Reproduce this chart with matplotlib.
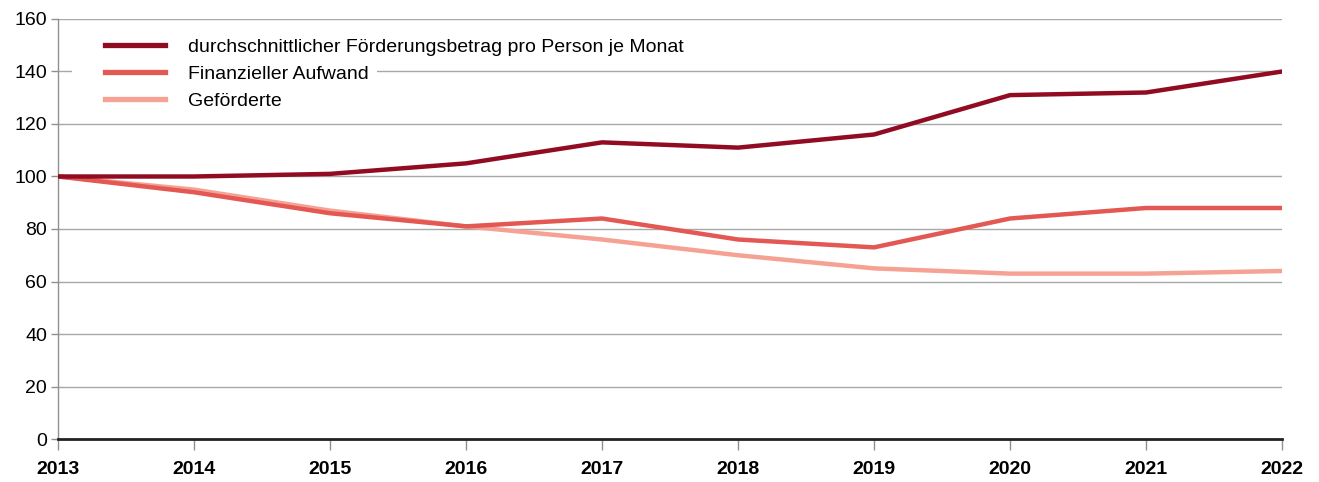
import matplotlib
matplotlib.use("Agg")
import matplotlib.pyplot as plt
from matplotlib.patches import Rectangle

plt.rcParams['font.family'] = ['Liberation Sans Narrow', 'Liberation Sans', 'DejaVu Sans']

years = [2013, 2014, 2015, 2016, 2017, 2018, 2019, 2020, 2021, 2022]
betrag = [100, 100, 101, 105, 113, 111, 116, 131, 132, 140]
aufwand = [100, 94, 86, 81, 84, 76, 73, 84, 88, 88]
gefoerderte = [100, 95, 87, 81, 76, 70, 65, 63, 63, 64]
labels = ['durchschnittlicher Förderungsbetrag pro Person je Monat',
          'Finanzieller Aufwand', 'Geförderte']
colors = ['#910c22', '#e35853', '#f5a294']

fig = plt.figure(figsize=(13.19, 4.82), dpi=100)
ax = fig.add_axes([0.044, 0.0892, 0.928, 0.8714])

for y in range(20, 161, 20):
    ax.axhline(y, color='#a8a8a8', lw=1, zorder=1)

ax.plot(years, gefoerderte, color=colors[2], lw=3.2, label=labels[2], zorder=3)
ax.plot(years, aufwand, color=colors[1], lw=3.2, label=labels[1], zorder=4)
ax.plot(years, betrag, color=colors[0], lw=3.2, label=labels[0], zorder=5)

ax.set_xlim(2013, 2022)
ax.set_ylim(0, 160)
ax.set_xticks(years)
ax.set_yticks(range(0, 161, 20))
ax.tick_params(axis='x', length=8, color='#909090', width=1, labelsize=14, pad=8)
ax.tick_params(axis='y', length=5, color='#909090', width=1, labelsize=14, pad=3)
for t in ax.get_xticklabels():
    t.set_fontweight('bold')
for s in ['top', 'right']:
    ax.spines[s].set_visible(False)
ax.spines['left'].set_color('#909090')
ax.spines['left'].set_linewidth(1)
ax.spines['bottom'].set_color('#222222')
ax.spines['bottom'].set_linewidth(2)
ax.spines['bottom'].set_zorder(6)

h, l = ax.get_legend_handles_labels()
leg = ax.legend(h[::-1], l[::-1], loc='upper left', bbox_to_anchor=(0.0384, 0.954),
                frameon=False, fontsize=14, handlelength=3.1, handletextpad=1.19,
                labelspacing=0.48, borderpad=0, borderaxespad=0)
leg.set_zorder(10)
for line in leg.get_lines():
    line.set_linewidth(3.8)

# white background behind each legend row (breaks the gridline like the original)
fig.canvas.draw()
inv = ax.transAxes.inverted()
for t in leg.get_texts():
    bb = t.get_window_extent()
    x0 = ax.get_window_extent().x0 + 14
    (ax0, ay0) = inv.transform((x0, bb.y0 - 2))
    (ax1, ay1) = inv.transform((bb.x1 + 8, bb.y1 + 2))
    ax.add_patch(Rectangle((ax0, ay0), ax1 - ax0, ay1 - ay0, transform=ax.transAxes,
                           facecolor='white', edgecolor='none', zorder=2))

fig.savefig('out.png', dpi=100)
